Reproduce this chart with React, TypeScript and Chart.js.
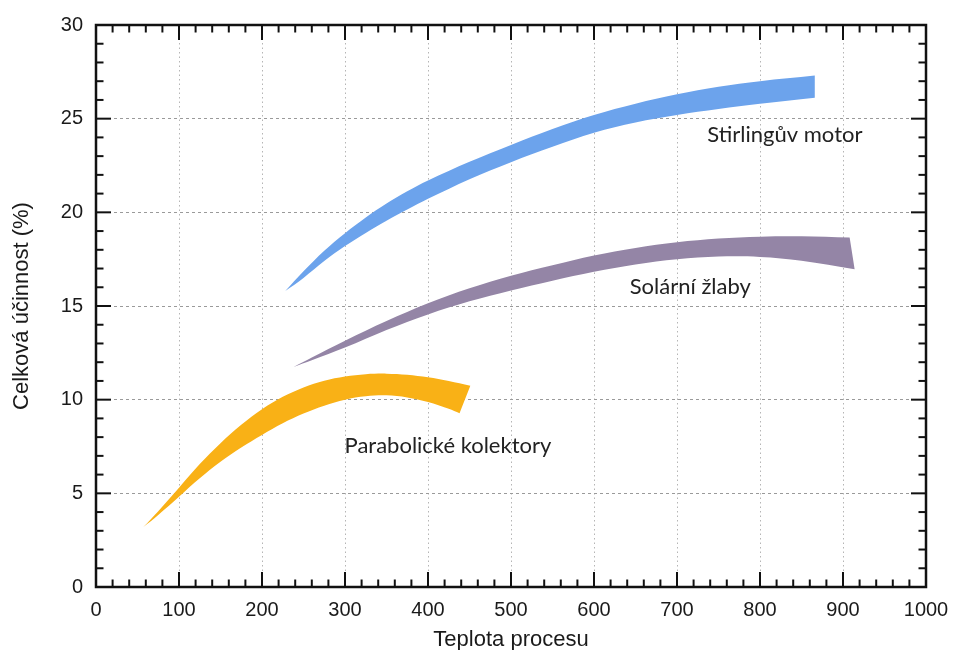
import React, { useEffect, useRef } from "react";
import { Chart, registerables } from "chart.js";

Chart.register(...registerables);

// Axis ranges / ticks
const X_MIN = 0;
const X_MAX = 1000;
const X_MAJOR = 100;
const X_MINOR = 20;
const Y_MIN = 0;
const Y_MAX = 30;
const Y_MAJOR = 5;
const Y_MINOR = 1;

// Stirlingův motor band
const stirlingUpperX = [228, 250, 275, 300, 325, 350, 375, 400, 450, 500, 550, 600, 650, 700, 750, 800, 866];
const stirlingUpperY = [15.8, 16.85, 17.95, 18.89, 19.73, 20.47, 21.12, 21.7, 22.7, 23.6, 24.45, 25.2, 25.8, 26.3, 26.7, 27.0, 27.3];
const stirlingLowerX = [228, 250, 275, 300, 325, 350, 375, 400, 450, 500, 550, 600, 650, 700, 750, 800, 866];
const stirlingLowerY = [15.8, 16.5, 17.4, 18.2, 18.9, 19.55, 20.15, 20.72, 21.77, 22.68, 23.5, 24.25, 24.8, 25.2, 25.52, 25.8, 26.12];

// Solární žlaby band
const solarUpperX = [238, 260, 300, 350, 400, 450, 500, 550, 600, 650, 700, 750, 800, 850, 908];
const solarUpperY = [11.75, 12.25, 13.15, 14.2, 15.15, 15.95, 16.62, 17.18, 17.7, 18.1, 18.4, 18.6, 18.7, 18.72, 18.65];
const solarLowerX = [238, 260, 300, 350, 400, 450, 500, 550, 600, 650, 700, 750, 800, 850, 914];
const solarLowerY = [11.75, 12.1, 12.78, 13.72, 14.55, 15.25, 15.83, 16.35, 16.83, 17.22, 17.5, 17.64, 17.62, 17.42, 16.96];

// Parabolické kolektory band
const paraUpperX = [57, 75, 100, 125, 150, 175, 200, 225, 250, 275, 300, 325, 350, 375, 400, 425, 451];
const paraUpperY = [3.2, 4.05, 5.3, 6.56, 7.68, 8.66, 9.49, 10.15, 10.65, 11.01, 11.24, 11.36, 11.39, 11.33, 11.19, 10.99, 10.74];
const paraLowerX = [57, 75, 100, 125, 150, 175, 200, 225, 250, 275, 300, 325, 350, 375, 400, 425, 438];
const paraLowerY = [3.2, 3.85, 4.82, 5.8, 6.68, 7.45, 8.12, 8.74, 9.26, 9.68, 10.0, 10.18, 10.23, 10.12, 9.88, 9.52, 9.28];

const bandNames = ["Stirlingův motor", "Solární žlaby", "Parabolické kolektory"];
const bandColors = ["#6ca3ec", "#9485a6", "#f9b116"];
// label anchor (data coordinates)
const labelAnchorX = [830, 716, 424];
const labelAnchorY = [24.13, 16.02, 7.53];

function buildBand(ux: number[], uy: number[], lx: number[], ly: number[]) {
  const pts: { x: number; y: number }[] = [];
  ux.forEach((x, i) => {
    pts.push({ x, y: uy[i] });
    if (i === ux.length - 1) pts.push({ x, y: uy[i] });
  });
  for (let i = lx.length - 1; i >= 0; i--) {
    pts.push({ x: lx[i], y: ly[i] });
    if (i === lx.length - 1) pts.push({ x: lx[i], y: ly[i] });
  }
  return pts;
}

const frameTicksPlugin = {
  id: "frameTicks",
  afterDraw(chart: any) {
    const { ctx, chartArea: a, scales } = chart;
    const xs = scales.x;
    const ys = scales.y;
    ctx.save();
    ctx.strokeStyle = "#111";
    ctx.lineWidth = 2;
    ctx.lineCap = "butt";
    const seg = (x1: number, y1: number, x2: number, y2: number) => {
      ctx.beginPath();
      ctx.moveTo(x1, y1);
      ctx.lineTo(x2, y2);
      ctx.stroke();
    };
    for (let v = X_MIN; v <= X_MAX; v += X_MINOR) {
      const px = xs.getPixelForValue(v);
      const len = v % X_MAJOR === 0 ? 15 : 7.5;
      seg(px, a.bottom, px, a.bottom - len);
      seg(px, a.top, px, a.top + len);
    }
    for (let v = Y_MIN; v <= Y_MAX; v += Y_MINOR) {
      const py = ys.getPixelForValue(v);
      const len = v % Y_MAJOR === 0 ? 15 : 7.5;
      seg(a.left, py, a.left + len, py);
      seg(a.right, py, a.right - len, py);
    }
    ctx.lineWidth = 2.5;
    ctx.strokeRect(a.left, a.top, a.right - a.left, a.bottom - a.top);
    ctx.restore();
  },
};

const bandLabelPlugin = {
  id: "bandLabels",
  afterDatasetsDraw(chart: any) {
    const { ctx, scales } = chart;
    ctx.save();
    ctx.font = "22px Lato";
    ctx.fillStyle = "#222";
    ctx.textAlign = "center";
    ctx.textBaseline = "middle";
    bandNames.forEach((name, i) => {
      ctx.fillText(name, scales.x.getPixelForValue(labelAnchorX[i]), scales.y.getPixelForValue(labelAnchorY[i]));
    });
    ctx.restore();
  },
};

export default function App() {
  const ref = useRef<HTMLCanvasElement | null>(null);
  useEffect(() => {
    if (!ref.current) return;
    const bands = [
      buildBand(stirlingUpperX, stirlingUpperY, stirlingLowerX, stirlingLowerY),
      buildBand(solarUpperX, solarUpperY, solarLowerX, solarLowerY),
      buildBand(paraUpperX, paraUpperY, paraLowerX, paraLowerY),
    ];
    const chart = new Chart(ref.current, {
      type: "line",
      data: {
        datasets: bands.map((pts, i) => ({
          label: bandNames[i],
          data: pts,
          fill: "shape",
          backgroundColor: bandColors[i],
          borderWidth: 0,
          borderColor: bandColors[i],
          pointRadius: 0,
          tension: 0.35,
        })),
      },
      options: {
        animation: false,
        responsive: true,
        maintainAspectRatio: false,
        layout: { padding: { top: 25, right: 28, left: 0, bottom: 0 } },
        plugins: { legend: { display: false }, tooltip: { enabled: false } },
        events: [],
        scales: {
          x: {
            type: "linear",
            min: X_MIN,
            max: X_MAX,
            afterFit(scale: any) {
              scale.height = 63;
              scale.paddingLeft = 0;
              scale.paddingRight = 0;
            },
            ticks: {
              stepSize: X_MAJOR,
              padding: 11,
              color: "#1a1a1a",
              font: { family: "Liberation Sans", size: 20 },
              maxRotation: 0,
              callback: (v: any) => String(v),
            },
            grid: { drawTicks: false, color: "#b5b5b5", lineWidth: 1 },
            border: { display: false, dash: [1.5, 3] },
            title: {
              display: true,
              text: "Teplota procesu",
              color: "#1a1a1a",
              font: { family: "Liberation Sans", size: 22 },
              padding: { top: 0, bottom: -3 },
            },
          },
          y: {
            type: "linear",
            min: Y_MIN,
            max: Y_MAX,
            afterFit(scale: any) {
              scale.width = 96;
              scale.paddingTop = 0;
              scale.paddingBottom = 0;
            },
            ticks: {
              stepSize: Y_MAJOR,
              padding: 13,
              color: "#1a1a1a",
              font: { family: "Liberation Sans", size: 20 },
              callback: (v: any) => String(v),
            },
            grid: { drawTicks: false, color: "#9a9a9a", lineWidth: 1 },
            border: { display: false, dash: [3, 3] },
            title: {
              display: true,
              text: "Celková účinnost (%)",
              color: "#1a1a1a",
              font: { family: "Liberation Sans", size: 22 },
              padding: { top: 9, bottom: 0 },
            },
          },
        },
      },
      plugins: [bandLabelPlugin, frameTicksPlugin],
    } as any);
    return () => chart.destroy();
  }, []);
  return (
    <div style={{ position: "absolute", left: 0, top: 0, width: 954, height: 650, background: "#fff" }}>
      <canvas ref={ref} />
    </div>
  );
}
